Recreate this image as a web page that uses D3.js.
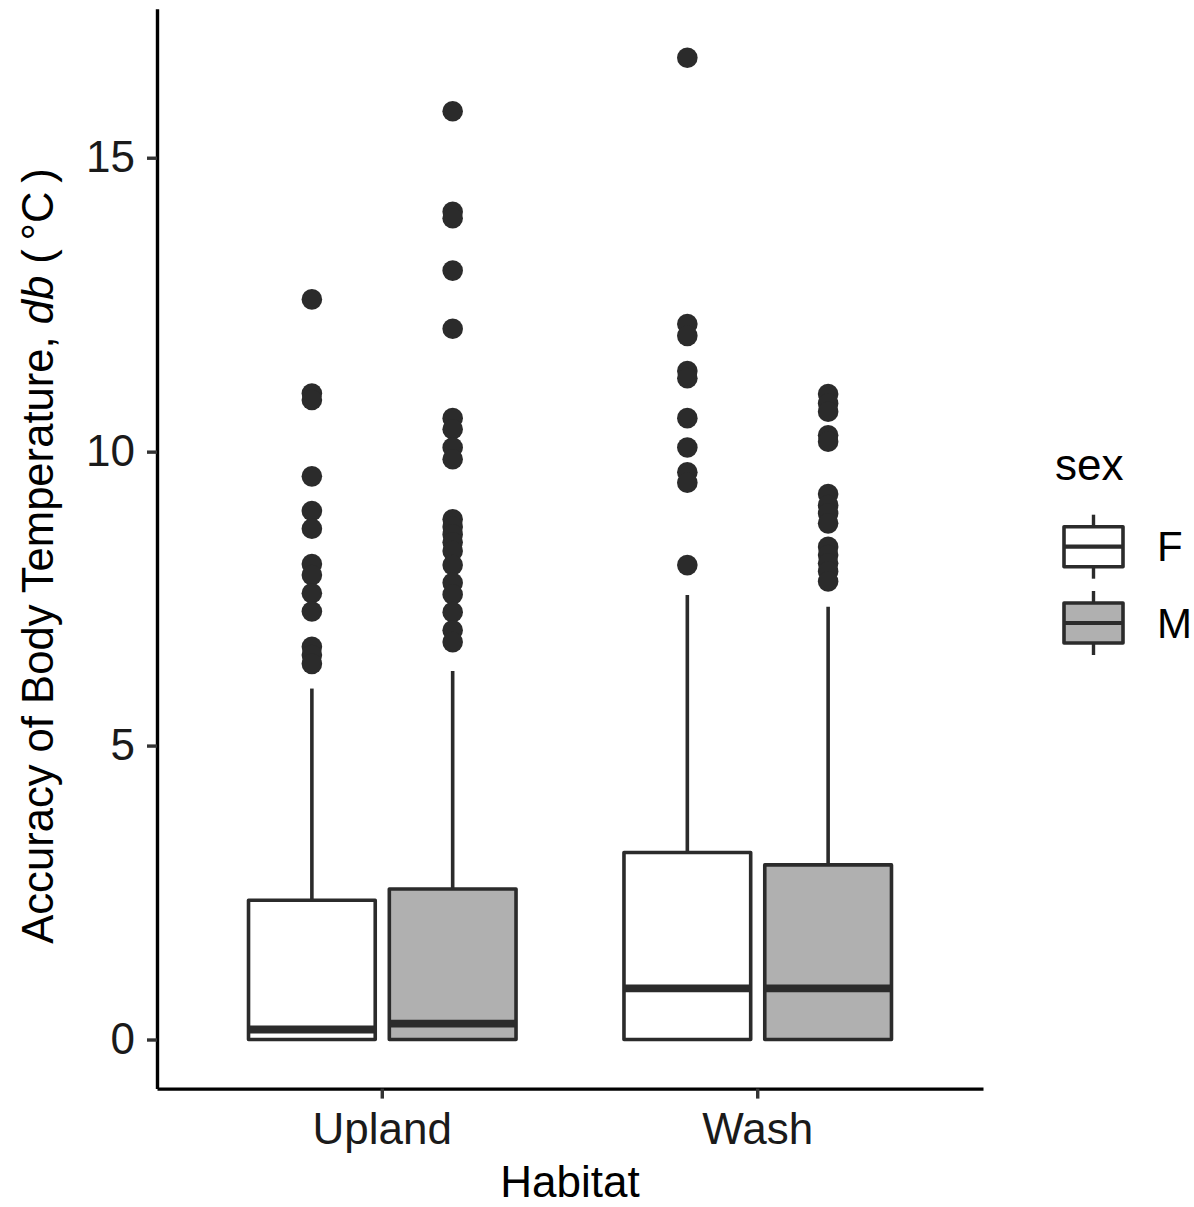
<!DOCTYPE html>
<html>
<head>
<meta charset="utf-8">
<script src="https://cdn.jsdelivr.net/npm/d3@7"></script>
<style>
  html, body { margin: 0; padding: 0; background: #fff; }
  svg { display: block; font-family: "Liberation Sans", Arial, Helvetica, sans-serif; }
</style>
</head>
<body>
<svg id="chart" width="1194" height="1207"></svg>
<script>
// Habitat groups and the sexes dodged within each
const habitats = ["Upland", "Wash"];
const sexes = ["F", "M"];
const fills = ["#ffffff", "#b0b0b0"];
const yTicks = [0, 5, 10, 15];

// Box summaries: [habitat, sex, lower whisker, Q1, median, Q3, upper whisker]
const boxStats = [
  ["Upland", "F", 0, 0, 0.17, 2.37, 5.97],
  ["Upland", "M", 0, 0, 0.27, 2.56, 6.27],
  ["Wash",   "F", 0, 0, 0.87, 3.18, 7.56],
  ["Wash",   "M", 0, 0, 0.87, 2.97, 7.36]
];

// Outlying observations per group
const outUplandF = [12.59, 10.99, 10.88, 9.58, 8.99, 8.69, 8.09, 7.90, 7.59, 7.28, 6.68, 6.54, 6.39];
const outUplandM = [15.79, 14.08, 13.97, 13.08, 12.09, 10.57, 10.38, 10.07, 9.87, 8.85, 8.72, 8.59,
                    8.46, 8.31, 8.07, 7.77, 7.57, 7.27, 6.96, 6.76];
const outWashF = [16.70, 12.17, 11.97, 11.37, 11.25, 10.57, 10.07, 9.65, 9.47, 8.07];
const outWashM = [10.98, 10.82, 10.68, 10.28, 10.17, 9.28, 9.09, 8.95, 8.78, 8.38, 8.24, 8.10, 7.96, 7.79];
const outliers = [
  ["Upland", "F", outUplandF],
  ["Upland", "M", outUplandM],
  ["Wash",   "F", outWashF],
  ["Wash",   "M", outWashM]
];

const svg = d3.select("#chart");
const ink = "#2b2b2b";
const panel = { left: 157, right: 983, top: 8.7, bottom: 1088.6 };

// y domain: data range plus 5% on each side
const allVals = boxStats.flatMap(d => [d[2], d[6]]).concat(outliers.flatMap(d => d[2]));
const yMin = d3.min(allVals), yMax = d3.max(allVals);
const pad = (yMax - yMin) * 0.05;
const y = d3.scaleLinear().domain([yMin - pad, yMax + pad]).range([panel.bottom, panel.top]);

const x = d3.scaleBand().domain(habitats).range([panel.left, panel.right])
  .paddingInner(0).paddingOuter(0.1);
const step = x.bandwidth();
const xSex = d3.scaleBand().domain(sexes).range([-0.375 * step, 0.375 * step])
  .paddingInner(0.1).paddingOuter(0.05);
const fill = d3.scaleOrdinal().domain(sexes).range(fills);

const cx = (h, s) => x(h) + step / 2 + xSex(s) + xSex.bandwidth() / 2;
const bw = xSex.bandwidth();
const boxLW = 3.6;

// boxes
const g = svg.append("g");
boxStats.forEach(([h, s, lo, q1, med, q3, hi]) => {
  const c = cx(h, s);
  g.append("line").attr("x1", c).attr("x2", c).attr("y1", y(q3)).attr("y2", y(hi))
    .attr("stroke", ink).attr("stroke-width", boxLW);
  g.append("line").attr("x1", c).attr("x2", c).attr("y1", y(q1)).attr("y2", y(lo))
    .attr("stroke", ink).attr("stroke-width", boxLW);
  g.append("rect").attr("x", c - bw / 2).attr("width", bw)
    .attr("y", y(q3)).attr("height", y(q1) - y(q3))
    .attr("fill", fill(s)).attr("stroke", ink).attr("stroke-width", boxLW)
    .attr("stroke-linejoin", "round");
  g.append("line").attr("x1", c - bw / 2).attr("x2", c + bw / 2)
    .attr("y1", y(med)).attr("y2", y(med))
    .attr("stroke", ink).attr("stroke-width", boxLW * 2.2);
});

// outlier points
outliers.forEach(([h, s, vals]) => {
  g.selectAll(null).data(vals).enter().append("circle")
    .attr("cx", cx(h, s)).attr("cy", d => y(d)).attr("r", 10.3)
    .attr("fill", ink);
});

// axes
const yAxis = svg.append("g").attr("transform", `translate(${panel.left},0)`)
  .call(d3.axisLeft(y).tickValues(yTicks).tickFormat(d3.format("d")).tickSize(10).tickSizeOuter(0).tickPadding(12));
const xAxis = svg.append("g").attr("transform", `translate(0,${panel.bottom})`)
  .call(d3.axisBottom(x).tickSize(10).tickSizeOuter(0).tickPadding(14));
[yAxis, xAxis].forEach(a => {
  a.select(".domain").attr("stroke", "#000").attr("stroke-width", 3.4);
  a.selectAll(".tick line").attr("stroke", "#333").attr("stroke-width", 3.4);
  a.selectAll(".tick text").attr("fill", "#1a1a1a").attr("font-size", 44)
    .attr("font-family", "Liberation Sans, Arial, sans-serif");
});
xAxis.selectAll(".tick text").attr("dy", "0.71em");

// axis titles
svg.append("text").attr("x", (panel.left + panel.right) / 2).attr("y", 1197)
  .attr("text-anchor", "middle").attr("font-size", 44).attr("fill", "#000").text("Habitat");
const yt = svg.append("text")
  .attr("transform", `translate(53,556) rotate(-90)`)
  .attr("text-anchor", "middle").attr("font-size", 43.6).attr("fill", "#000");
yt.append("tspan").text("Accuracy of Body Temperature, ");
yt.append("tspan").attr("font-style", "italic").text("db");
yt.append("tspan").text(" (\u2009°C\u2009)");

// legend
const lg = svg.append("g");
lg.append("text").attr("x", 1055).attr("y", 480).attr("font-size", 44).attr("fill", "#000").text("sex");
const keyLeft = 1064, keyW = 59, keyH = 40;
const keyMid = [546.7, 623];
sexes.forEach((s, i) => {
  const m = keyMid[i], kc = keyLeft + keyW / 2;
  lg.append("line").attr("x1", kc).attr("x2", kc).attr("y1", m - 32).attr("y2", m + 32)
    .attr("stroke", ink).attr("stroke-width", 3.4);
  lg.append("rect").attr("x", keyLeft).attr("y", m - keyH / 2).attr("width", keyW).attr("height", keyH)
    .attr("fill", fill(s)).attr("stroke", ink).attr("stroke-width", 3.6).attr("stroke-linejoin", "round");
  lg.append("line").attr("x1", keyLeft).attr("x2", keyLeft + keyW).attr("y1", m).attr("y2", m)
    .attr("stroke", ink).attr("stroke-width", 4.2);
  lg.append("text").attr("x", 1157).attr("y", m).attr("dy", "0.35em")
    .attr("font-size", 42).attr("fill", "#000").text(s);
});
</script>
</body>
</html>
